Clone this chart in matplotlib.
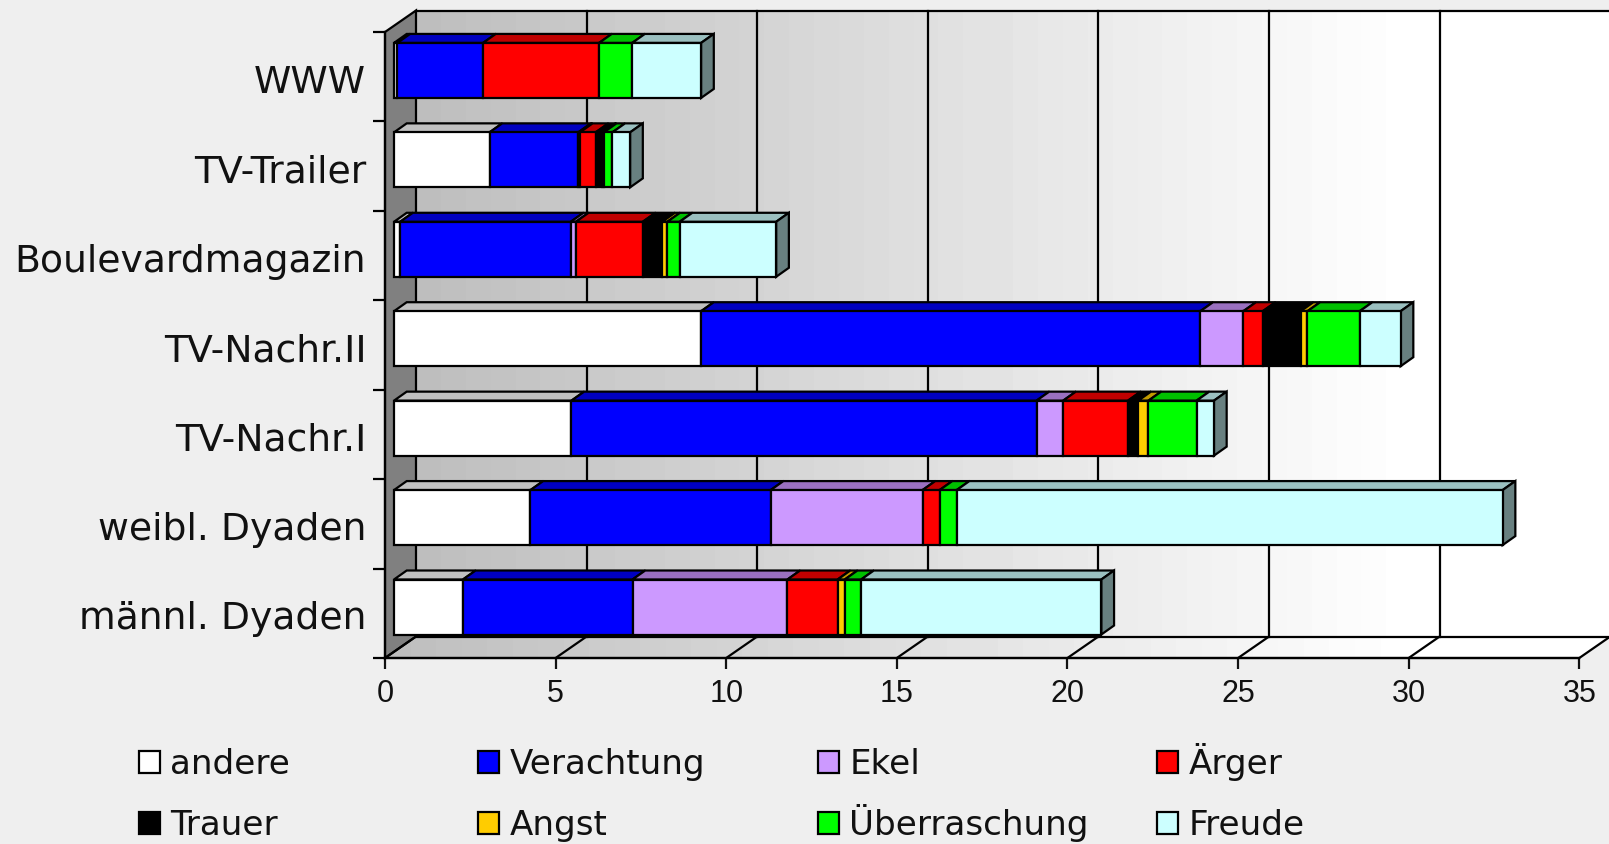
import numpy as np
import matplotlib
matplotlib.use("Agg")
import matplotlib.pyplot as plt
from matplotlib.patches import Polygon, Patch
from matplotlib.transforms import ScaledTranslation

W, H = 1609, 844
categories = ["männl. Dyaden", "weibl. Dyaden", "TV-Nachr.I", "TV-Nachr.II",
              "Boulevardmagazin", "TV-Trailer", "WWW"]
andere      = [2.02, 4.00, 5.20, 9.00, 0.18, 2.80, 0.10]
verachtung  = [4.97, 7.04, 13.63, 14.63, 5.00, 2.60, 2.51]
ekel        = [4.54, 4.45, 0.78, 1.26, 0.15, 0.05, 0.00]
aerger      = [1.47, 0.50, 1.90, 0.57, 1.96, 0.46, 3.40]
trauer      = [0.00, 0.00, 0.30, 1.11, 0.57, 0.20, 0.00]
angst       = [0.21, 0.00, 0.30, 0.20, 0.15, 0.04, 0.00]
ueberr      = [0.48, 0.50, 1.41, 1.53, 0.36, 0.25, 0.97]
freude      = [7.04, 16.00, 0.51, 1.20, 2.83, 0.52, 2.02]
series = [andere, verachtung, ekel, aerger, trauer, angst, ueberr, freude]
series_names = ["andere", "Verachtung", "Ekel", "Ärger", "Trauer", "Angst", "Überraschung", "Freude"]
colors = ["#ffffff", "#0000ff", "#cc99ff", "#ff0000", "#000000", "#ffcc00", "#00ff00", "#ccffff"]
top_colors = ["#c0c0c0", "#0000c0", "#9a70c0", "#c00000", "#000000", "#c09a00", "#00c000", "#9bc0c0"]
side_color = "#688080"
xticks = [0, 5, 10, 15, 20, 25, 30, 35]

BG = "#efefef"
LW = 1.6
fig = plt.figure(figsize=(W / 100, H / 100), dpi=100, facecolor=BG)
L, R, T, B = 385, 1579.3, 32, 658
ax = fig.add_axes([L / W, 1 - B / H, (R - L) / W, (B - T) / H])
ax.patch.set_visible(False)
ax.set_xlim(0, 35)
ax.set_ylim(0, 7)
ux = 35 / (R - L)      # value units per pixel
uy = 7 / (B - T)       # category units per pixel
DX, DY = 31 * ux, 21.5 * uy
GX, GY = 9 * ux, 23.5 * uy
BH = 55 * uy
SX, SY = 12.7 * ux, 9 * uy

# gradient walls: grey at the left, fading to white near the right edge
grad = np.clip(np.linspace(0.745, 1.05, 48), 0, 1)[None, :]
for poly in ([(DX, DY), (35 + DX, DY), (35 + DX, 7 + DY), (DX, 7 + DY)],
             [(0, 0), (35, 0), (35 + DX, DY), (DX, DY)]):
    xs, ys = zip(*poly)
    im = ax.imshow(grad, extent=[min(xs), max(xs), min(ys), max(ys)], cmap="gray",
                   vmin=0, vmax=1, aspect="auto", interpolation="nearest", zorder=1)
    clip = Polygon(poly, transform=ax.transData, fc="none", ec="none", clip_on=False)
    ax.add_patch(clip)
    im.set_clip_box(fig.bbox)
    im.set_clip_path(clip)
ax.set_xlim(0, 35)
ax.set_ylim(0, 7)

ax.add_patch(Polygon([(0, 0), (DX, DY), (DX, 7 + DY), (0, 7)], fc="#808080", ec="black",
                     lw=LW, zorder=2, clip_on=False))
ax.plot([DX, 35 + DX], [7 + DY, 7 + DY], color="black", lw=LW, zorder=2, clip_on=False)
ax.plot([DX, 35 + DX], [DY, DY], color="black", lw=LW, zorder=2, clip_on=False)
ax.plot([0, 35], [0, 0], color="black", lw=LW, zorder=2, clip_on=False)
for t in xticks:
    ax.plot([t, t + DX], [0, DY], color="black", lw=LW, zorder=2, clip_on=False)
    if t > 0:
        ax.plot([t + DX, t + DX], [DY, 7 + DY], color="black", lw=LW, zorder=2, clip_on=False)

# stacked pseudo-3D bars, back to front
z = 3
for i in range(len(categories) - 1, -1, -1):
    left = GX
    y0, y1 = i + GY, i + GY + BH
    total_end = left + sum(s[i] for s in series)
    for s, c, tc in zip(series, colors, top_colors):
        v = s[i]
        if v <= 0:
            continue
        ax.add_patch(Polygon([(left, y1), (left + v, y1), (left + v + SX, y1 + SY), (left + SX, y1 + SY)],
                             fc=tc, ec="black", lw=LW, zorder=z, clip_on=False, joinstyle="miter"))
        ax.barh(y0 + BH / 2, v, height=BH, left=left, color=c, edgecolor="black",
                linewidth=LW, zorder=z + 1, clip_on=False)
        left += v
    ax.add_patch(Polygon([(total_end, y0), (total_end + SX, y0 + SY), (total_end + SX, y1 + SY), (total_end, y1)],
                         fc=side_color, ec="black", lw=LW, zorder=z, clip_on=False))
    z += 2

# axes, ticks and labels
for name, sp in ax.spines.items():
    sp.set_visible(name in ("left", "bottom"))
    sp.set_linewidth(LW)
    sp.set_zorder(2)
ax.set_xticks(xticks)
ax.set_xticklabels([str(t) for t in xticks], family="Liberation Sans", fontsize=22)
ax.tick_params(axis="x", length=8, width=LW, pad=7, colors="#111111")
ax.set_yticks(range(8))
ax.set_yticklabels([])
ax.tick_params(axis="y", which="major", length=8.5, width=LW)
ax.set_yticks(np.arange(7) + 0.5, minor=True)
ax.set_yticklabels(categories, minor=True, fontsize=27.2, family="DejaVu Sans", color="#111111")
ax.tick_params(axis="y", which="minor", length=0, pad=13.5)
shift = ScaledTranslation(0, -2 / 100, fig.dpi_scale_trans)
for lbl in ax.get_yticklabels(minor=True):
    lbl.set_transform(lbl.get_transform() + shift)

# legend: four equally spaced columns, two rows with common baselines
col_x = [139, 478, 818, 1157]
row_y = [781, 842]
for j, name in enumerate(series_names):
    c, r = j % 4, j // 4
    fig.legend([Patch(fc=colors[j], ec="black", lw=LW)], [name], loc="lower left",
               bbox_to_anchor=(col_x[c] / W, 1 - row_y[r] / H), frameon=False,
               prop={"family": "DejaVu Sans", "size": 24.6}, handlelength=0.62, handleheight=0.62,
               handletextpad=0.3, borderpad=0, borderaxespad=0, labelcolor="#111111")

fig.savefig("out.png", dpi=100, facecolor=BG)
